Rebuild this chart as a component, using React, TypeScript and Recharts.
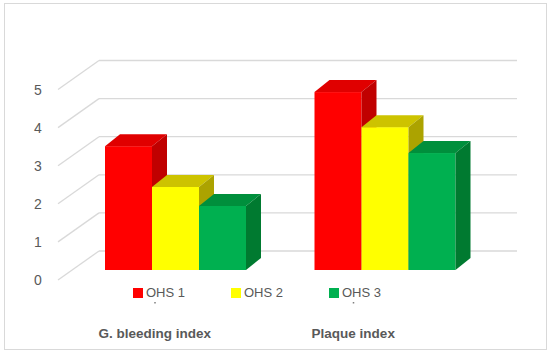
import { BarChart, Bar, XAxis, YAxis, CartesianGrid, Legend } from 'recharts';

const categories = ['G. bleeding index', 'Plaque index'];
const ohs1 = [3.25, 4.67];
const ohs2 = [2.18, 3.75];
const ohs3 = [1.68, 3.07];
const yTicks = [0, 1, 2, 3, 4, 5];

const SERIES = [
  { key: 'ohs1', name: 'OHS 1', front: '#ff0000', top: '#e00000', side: '#c00000' },
  { key: 'ohs2', name: 'OHS 2', front: '#ffff00', top: '#cdc300', side: '#aca300' },
  { key: 'ohs3', name: 'OHS 3', front: '#00b050', top: '#008f3c', side: '#007a30' },
];

const data = categories.map((c, i) => ({ name: c, ohs1: ohs1[i], ohs2: ohs2[i], ohs3: ohs3[i] }));

// depth of the bars and of the floor/back wall
const BAR_DX = 15;
const BAR_DY = 12;
const FRONT_X = 58;
const BACK_X = 99;
const BACK_RIGHT = 517;
const TEXT = '#595959';
const LABEL_SHIFT = [-20, -31];

const Bar3D = (fill: { front: string; top: string; side: string }) => (props: any) => {
  const { x, y, width, height } = props;
  if (height == null || height <= 0) return null;
  const r = x + width;
  const b = y + height;
  return (
    <g>
      <rect x={x} y={y} width={width} height={height} fill={fill.front} />
      <polygon
        points={`${x},${y} ${x + BAR_DX},${y - BAR_DY} ${r + BAR_DX},${y - BAR_DY} ${r},${y}`}
        fill={fill.top}
      />
      <polygon
        points={`${r},${y} ${r + BAR_DX},${y - BAR_DY} ${r + BAR_DX},${b - BAR_DY} ${r},${b}`}
        fill={fill.side}
      />
    </g>
  );
};

const GridLine = (props: any) => {
  const { y1 } = props;
  return (
    <g key={props.key}>
      <line x1={FRONT_X} y1={y1 + 10} x2={BACK_X} y2={y1 - 19} stroke="#d9d9d9" strokeWidth={1.3} />
      <line x1={BACK_X} y1={y1 - 19} x2={BACK_RIGHT} y2={y1 - 19} stroke="#d9d9d9" strokeWidth={1.3} />
    </g>
  );
};

const YTick = (props: any) => {
  const { y, payload } = props;
  return (
    <text x={38} y={y + 10} textAnchor="middle" dominantBaseline="central" fill={TEXT} fontSize={14}>
      {payload.value}
    </text>
  );
};

const XTick = (props: any) => {
  const { x, payload, index } = props;
  const cx = x + (LABEL_SHIFT[index] ?? -25);
  return (
    <g>
      <rect x={cx - 0.5} y={302} width={1.5} height={1.5} fill="#7f7f7f" />
      <text x={cx} y={333} textAnchor="middle" dominantBaseline="central" fill={TEXT} fontSize={13.5} fontWeight="bold">
        {payload.value}
      </text>
    </g>
  );
};

const LegendContent = () => (
  <div style={{ display: 'flex', fontFamily: '"Liberation Sans", Arial, sans-serif', fontSize: 13, color: TEXT }}>
    {SERIES.map(s => (
      <div key={s.key} style={{ width: 98, display: 'flex', alignItems: 'center' }}>
        <span style={{ width: 10, height: 10, background: s.front, marginRight: 3, display: 'inline-block' }} />
        <span>{s.name}</span>
      </div>
    ))}
  </div>
);

export default function App() {
  return (
    <div style={{ position: 'absolute', left: 0, top: 0, width: 550, height: 354, background: '#fff', fontFamily: '"Liberation Sans", Arial, sans-serif' }}>
      <div style={{ position: 'absolute', left: 4, top: 3, width: 541, height: 345, border: '1px solid #d9d9d9' }} />
      <BarChart
        width={550}
        height={354}
        data={data}
        margin={{ top: 79.5, right: 61, bottom: 14, left: 30 }}
        barCategoryGap={35}
        barGap={0}
      >
        <CartesianGrid vertical={false} horizontal={GridLine} />
        <YAxis
          domain={[0, 5]}
          ticks={yTicks}
          width={40}
          axisLine={false}
          tickLine={false}
          tick={YTick}
          interval={0}
        />
        <XAxis dataKey="name" height={70} axisLine={false} tickLine={false} tick={XTick} interval={0} />
        <Legend
          layout="horizontal"
          verticalAlign="middle"
          align="center"
          content={LegendContent}
          wrapperStyle={{ position: 'absolute', top: 285, left: 133, width: 294 }}
        />
        {SERIES.map(s => (
          <Bar key={s.key} dataKey={s.key} name={s.name} fill={s.front} shape={Bar3D(s)} isAnimationActive={false} />
        ))}
      </BarChart>
    </div>
  );
}
